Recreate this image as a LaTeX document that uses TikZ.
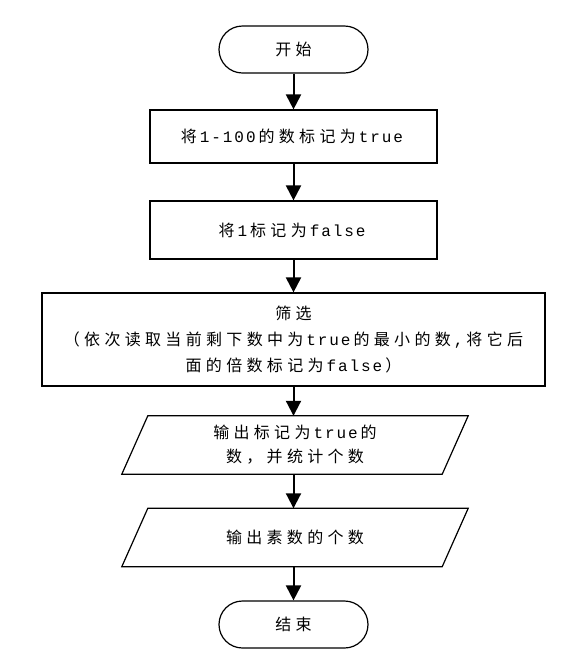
\documentclass[tikz,border=0pt]{standalone}
\usepackage{fontspec}
\newfontfamily\cjk[LetterSpace=27]{Noto Sans CJK SC}
\newfontfamily\lat[LetterSpace=12]{Liberation Mono}
\usetikzlibrary{arrows.meta,calc}
\newcommand{\en}[1]{\kern3pt{\lat #1}\kern3pt}
\begin{document}
\begin{tikzpicture}[x=1pt,y=-1pt,
  every node/.style={font=\cjk\fontsize{16}{26}\selectfont, align=center, inner sep=0pt},
  term/.style={draw, line width=1.2pt, rounded corners=23.5pt, minimum width=149pt, minimum height=47pt},
  proc/.style={draw, line width=1.2pt},
  io/.style={minimum width=320pt, minimum height=58pt},
  flow/.style={line width=2pt, -{Triangle[width=15pt,length=15pt]}}]
\useasboundingbox (0,0) rectangle (564,665);
\node[term] (start) at (293.5,49.5) {开始};
\node[proc, minimum width=287pt, minimum height=53pt] (b1) at (293.5,136.5) {将\en{1-100}的数标记为\en{true}};
\node[proc, minimum width=287pt, minimum height=58pt] (b2) at (293.5,230) {将\en{1}标记为\en{false}};
\node[proc, minimum width=503pt, minimum height=93pt] (b3) at (293.5,339.5) {筛选\\（依次读取当前剩下数中为\en{true}的最小的数\en{,}将它后\\面的倍数标记为\en{false}）};
\node[io, font=\cjk\fontsize{16}{24}\selectfont] (p1) at (295,445) {输出标记为\en{true}的\\数，并统计个数};
\node[io] (p2) at (295,537.5) {输出素数的个数};
\node[term] (end) at (293.5,624.5) {结束};
\foreach \n in {p1,p2}{
  \draw[line width=1.2pt] ($(\n.north west)+(13,0)$) -- ($(\n.north east)+(13,0)$) -- ($(\n.south east)+(-13,0)$) -- ($(\n.south west)+(-13,0)$) -- cycle;
}
\draw[flow] (start.south) -- (b1.north);
\draw[flow] (b1.south) -- (b2.north);
\draw[flow] (b2.south) -- (b3.north);
\draw[flow] (b3.south) -- ($(p1.north)+(-1.5,0)$);
\draw[flow] ($(p1.south)+(-1.5,0)$) -- ($(p2.north)+(-1.5,0)$);
\draw[flow] ($(p2.south)+(-1.5,0)$) -- (end.north);
\end{tikzpicture}
\end{document}
